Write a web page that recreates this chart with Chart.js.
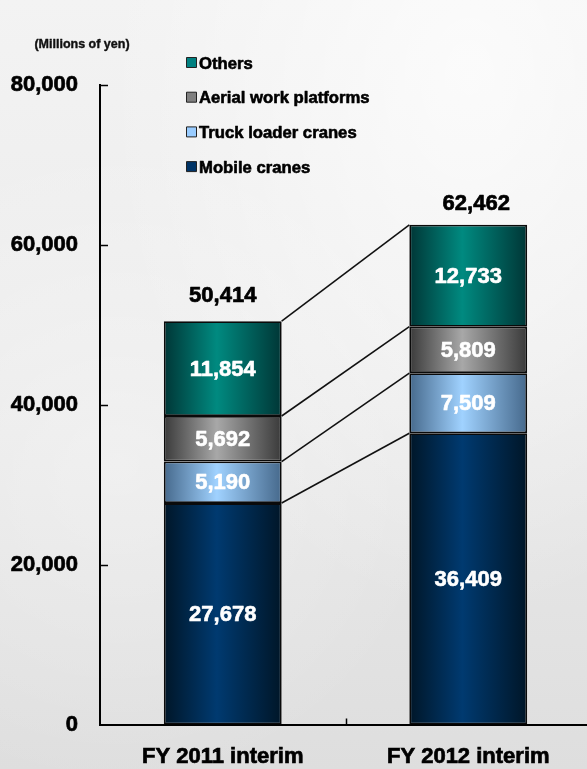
<!DOCTYPE html>
<html>
<head>
<meta charset="utf-8">
<script src="https://cdn.jsdelivr.net/npm/chart.js@4/dist/chart.umd.min.js"></script>
<style>
  html, body { margin: 0; padding: 0; }
  body {
    width: 587px; height: 769px; overflow: hidden;
    background:
      radial-gradient(ellipse at 80% 10%, rgba(255,255,255,0.7), rgba(255,255,255,0) 55%),
      radial-gradient(ellipse at 20% 60%, rgba(255,255,255,0.35), rgba(255,255,255,0) 50%),
      linear-gradient(#f3f3f3 0%, #ececec 45%, #e4e4e4 75%, #dedede 100%);
  }
  canvas { display: block; }
</style>
</head>
<body>
<canvas id="c" width="591" height="769"></canvas>
<script>
const categories = ['FY 2011 interim', 'FY 2012 interim'];
const seriesNames = ['Mobile cranes', 'Truck loader cranes', 'Aerial work platforms', 'Others'];
const mobileCranes = [27678, 36409];
const truckLoaderCranes = [5190, 7509];
const aerialWorkPlatforms = [5692, 5809];
const others = [11854, 12733];
const totals = [50414, 62462];
const yTicks = [0, 20000, 40000, 60000, 80000];
const unitLabel = '(Millions of yen)';

const FONT = "'Liberation Sans', Arial, sans-serif";
const BAR_PCT = 0.48;

function grad(edge, mid, solid) {
  return (ctx) => {
    if (ctx.type !== 'data') return solid;
    const chart = ctx.chart;
    const xs = chart.scales && chart.scales.x;
    if (!xs || !chart.chartArea) return solid;
    const c = xs.getPixelForValue(ctx.dataIndex);
    if (!isFinite(c)) return solid;
    const half = xs.width / categories.length * BAR_PCT / 2;
    const g = chart.ctx.createLinearGradient(c - half, 0, c + half, 0);
    g.addColorStop(0, edge);
    g.addColorStop(0.45, mid);
    g.addColorStop(1, edge);
    return g;
  };
}

const seriesStyle = [
  { edge: '#001628', mid: '#003a70', solid: '#003366' },
  { edge: '#46698c', mid: '#a0d2ff', solid: '#99ccff' },
  { edge: '#3a3a3a', mid: '#a8a8a8', solid: '#808080' },
  { edge: '#003636', mid: '#008a80', solid: '#008080' }
];
const seriesData = [mobileCranes, truckLoaderCranes, aerialWorkPlatforms, others];

const datasets = seriesData.map((d, i) => ({
  label: seriesNames[i],
  data: d,
  backgroundColor: grad(seriesStyle[i].edge, seriesStyle[i].mid, seriesStyle[i].solid),
  legendColor: seriesStyle[i].solid,
  borderColor: '#0a0a0a',
  borderWidth: 1.8,
  borderSkipped: false,
  barPercentage: BAR_PCT,
  categoryPercentage: 1.0
}));

function boldText(ctx, text, x, y, color, sw) {
  ctx.fillStyle = color;
  ctx.strokeStyle = color;
  ctx.lineWidth = sw;
  ctx.lineJoin = 'round';
  ctx.fillText(text, x, y);
  ctx.strokeText(text, x, y);
}

const decor = {
  id: 'decor',
  afterDatasetsDraw(chart) {
    const ctx = chart.ctx;
    const metas = chart.data.datasets.map((_, i) => chart.getDatasetMeta(i));
    // connector lines
    ctx.save();
    ctx.strokeStyle = '#111';
    ctx.lineWidth = 1.6;
    metas.forEach(m => {
      const a = m.data[0], b = m.data[1];
      ctx.beginPath();
      ctx.moveTo(a.x + a.width / 2, a.y);
      ctx.lineTo(b.x - b.width / 2, b.y);
      ctx.stroke();
    });
    // segment labels
    ctx.font = 'bold 22px ' + FONT;
    ctx.textAlign = 'center';
    ctx.textBaseline = 'middle';
    metas.forEach((m, di) => {
      m.data.forEach((el, i) => {
        const v = chart.data.datasets[di].data[i];
        boldText(ctx, v.toLocaleString('en-US'), el.x, (el.y + el.base) / 2 + 1, '#fff', 0.6);
      });
    });
    // totals
    const top = metas[metas.length - 1];
    const dx = [0, 8];
    const dy = [25, 21];
    top.data.forEach((el, i) => {
      boldText(ctx, totals[i].toLocaleString('en-US'), el.x + dx[i], el.y - dy[i], '#000', 0.7);
    });
    ctx.restore();
  },
  afterDraw(chart) {
    const ctx = chart.ctx;
    const ys = chart.scales.y, xs = chart.scales.x;
    const area = chart.chartArea;
    ctx.save();
    // inward tick marks
    ctx.strokeStyle = '#000';
    ctx.lineWidth = 1.5;
    yTicks.forEach(v => {
      if (v === 0) return;
      const y = Math.round(ys.getPixelForValue(v)) + 0.5;
      ctx.beginPath();
      ctx.moveTo(area.left, y);
      ctx.lineTo(area.left + 8, y);
      ctx.stroke();
    });
    const mx = Math.round((xs.getPixelForValue(0) + xs.getPixelForValue(1)) / 2) + 0.5;
    ctx.beginPath();
    ctx.moveTo(mx, area.bottom);
    ctx.lineTo(mx, area.bottom - 6);
    ctx.stroke();
    // unit label
    ctx.font = 'bold 12.5px ' + FONT;
    ctx.textAlign = 'center';
    ctx.textBaseline = 'middle';
    boldText(ctx, unitLabel, 82, 45, '#111', 0.4);
    // legend (reverse order)
    ctx.font = 'bold 16.7px ' + FONT;
    ctx.textAlign = 'left';
    const items = chart.data.datasets.slice().reverse();
    items.forEach((ds, i) => {
      const cy = 63 + i * 34.7;
      ctx.fillStyle = ds.legendColor;
      ctx.fillRect(186.5, cy - 5.5, 10, 10);
      ctx.strokeStyle = '#222';
      ctx.lineWidth = 1;
      ctx.strokeRect(186.5, cy - 5.5, 10, 10);
      boldText(ctx, ds.label, 199, cy + 1, '#000', 0.6);
    });
    ctx.restore();
  }
};

new Chart(document.getElementById('c'), {
  type: 'bar',
  data: { labels: categories, datasets },
  options: {
    responsive: false,
    animation: false,
    layout: { padding: { top: 84.5, right: 0, left: 0, bottom: 0 } },
    plugins: { legend: { display: false }, tooltip: { enabled: false } },
    scales: {
      x: {
        stacked: true,
        grid: { display: false, drawTicks: false },
        border: { color: '#000', width: 2 },
        ticks: {
          color: '#000', font: { family: FONT, size: 22, weight: 'bold' }, padding: 19,
          textStrokeColor: '#000', textStrokeWidth: 0.7
        },
        afterFit: s => { s.height = 44.5; }
      },
      y: {
        stacked: true,
        min: 0, max: 80000,
        afterBuildTicks: s => { s.ticks = yTicks.map(v => ({ value: v })); },
        grid: { display: false, drawTicks: false },
        border: { color: '#000', width: 2 },
        ticks: {
          color: '#000',
          font: { family: FONT, size: 22, weight: 'bold' },
          padding: 22,
          textStrokeColor: '#000', textStrokeWidth: 0.7,
          callback: v => Number(v).toLocaleString('en-US')
        },
        afterFit: s => { s.width = 100; }
      }
    }
  },
  plugins: [decor]
});
</script>
</body>
</html>
